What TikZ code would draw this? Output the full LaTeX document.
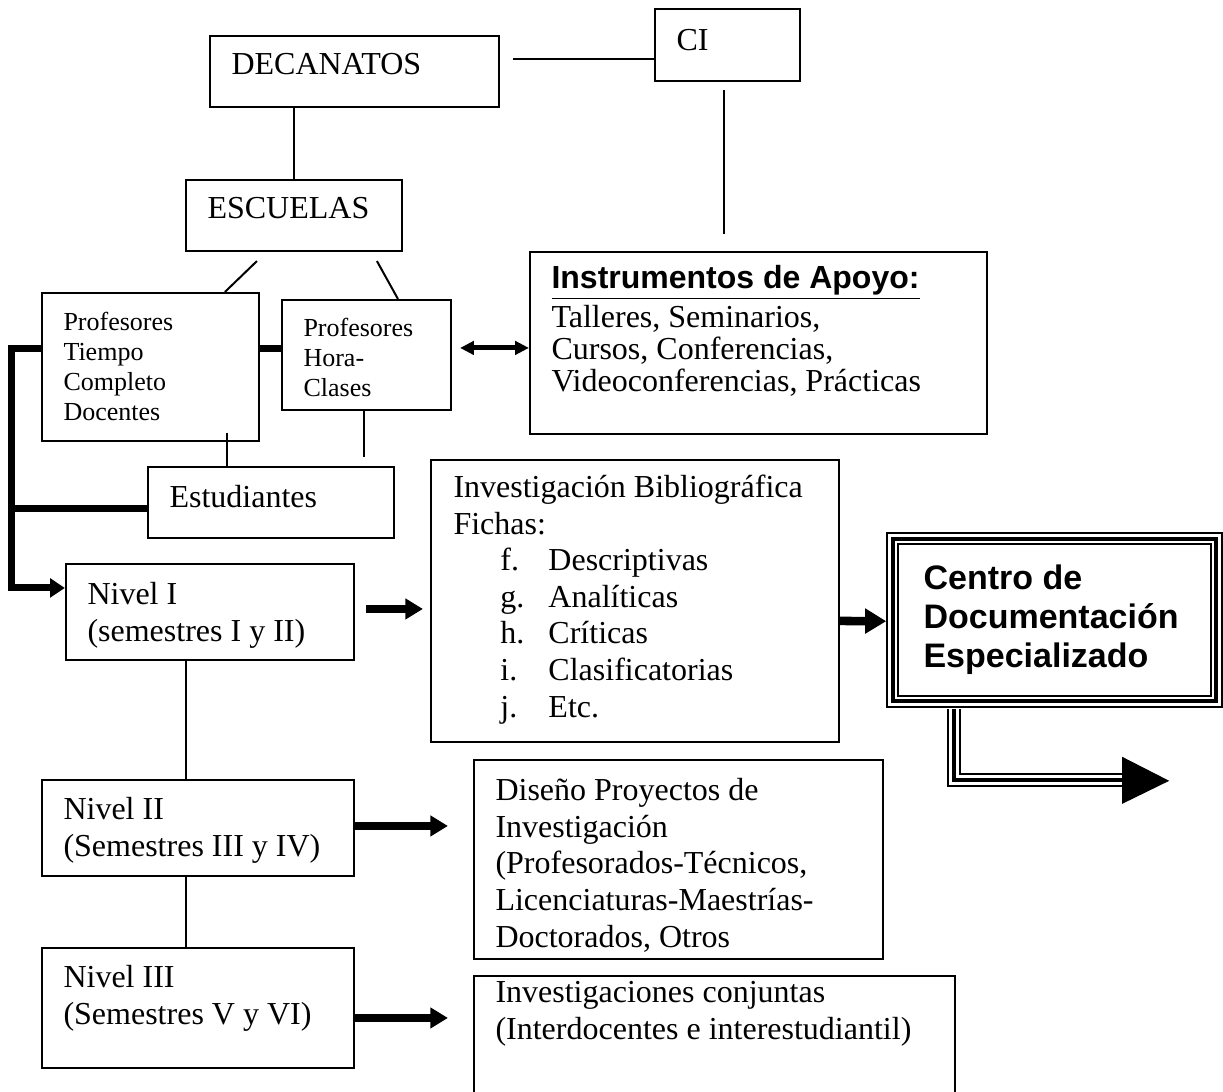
\documentclass[tikz,border=0pt]{standalone}
\usepackage{fontspec}
\setmainfont{Liberation Serif}
\newfontfamily\arialfont{Liberation Sans}
\usetikzlibrary{arrows.meta, fit, calc}
\newcommand{\fichaitem}[1]{\hspace*{17.6pt}\makebox[18pt][l]{#1}}

\begin{document}
\begin{tikzpicture}[
  x=0.375pt, y=-0.375pt,
  box/.style={rectangle, draw, line width=0.8pt, inner sep=0pt},
  boxtext/.style={anchor=base west, inner sep=0pt, align=left, font=\fontsize{12}{13.7}\selectfont},
  smalltext/.style={anchor=base west, inner sep=0pt, align=left, font=\fontsize{9.75}{11.25}\selectfont},
  conn/.style={line width=0.75pt},
  boldconn/.style={line width=2.6pt},
  arrow/.style={line width=2.8pt, -{Triangle[length=6.6pt, width=7.5pt]}}
]
  \useasboundingbox (0,0) rectangle (1223,1091);

  % Boxes
  \node[box, fit={(210,36) (499,107)}] (dec) {};
  \node[box, fit={(655,9) (800,81)}] (ci) {};
  \node[box, fit={(186,180) (402,251)}] (esc) {};
  \node[box, fit={(42,293) (259,441)}] (tiempo) {};
  \node[box, fit={(282,300) (451,410)}] (hora) {};
  \node[box, fit={(530,252) (987,434)}] (instr) {};
  \node[box, fit={(148,467) (394,538)}] (estud) {};
  \node[box, fit={(431,460) (839,742)}] (biblio) {};
  \node[box, fit={(66,564) (354,660)}] (nivel1) {};
  \node[box, fit={(42,780) (354,876)}] (nivel2) {};
  \node[box, fit={(42,948) (354,1068)}] (nivel3) {};
  \node[box, fit={(474,760) (883,959)}] (diseno) {};
  \node[box, fit={(474,976) (955,1110)}] (conj) {};
  \node[box, line width=0.6pt, fit={(887,533) (1222,707)}] (centro) {};
  \draw[line width=1.5pt] ($(centro.north west)+(7,7)$) rectangle ($(centro.south east)+(-7,-7)$);
  \draw[line width=0.6pt] ($(centro.north west)+(12,12)$) rectangle ($(centro.south east)+(-12,-12)$);

  % Texts (multi-line texts sit on the baseline of their last line)
  \node[boxtext] (dectxt) at (231,74) {DECANATOS};
  \node[boxtext] (citxt) at (676,50) {CI};
  \node[boxtext] (esctxt) at (207,218) {ESCUELAS};
  \node[smalltext] (tiempotxt) at (63,420) {Profesores\\Tiempo\\Completo\\Docentes};
  \node[smalltext] (horatxt) at (303,396) {Profesores\\Hora-\\Clases};
  \node[boxtext, font=\fontsize{12}{12}\selectfont] (instrtxt) at (551,391)
    {{\arialfont\bfseries\underline{Instrumentos de Apoyo:}}\\[0.75pt]Talleres, Seminarios,\\Cursos, Conferencias,\\Videoconferencias, Prácticas};
  \node[boxtext] (estudtxt) at (169,507) {Estudiantes};
  \node[boxtext] (bibliotxt) at (453,717) {Investigación Bibliográfica\\Fichas:\\\fichaitem{f.}Descriptivas\\\fichaitem{g.}Analíticas\\\fichaitem{h.}Críticas\\\fichaitem{i.}Clasificatorias\\\fichaitem{j.}Etc.};
  \node[boxtext] (nivel1txt) at (87,641) {Nivel I\\(semestres I y II)};
  \node[boxtext] (nivel2txt) at (63,856) {Nivel II\\(Semestres III y IV)};
  \node[boxtext] (nivel3txt) at (63,1024) {Nivel III\\(Semestres V y VI)};
  \node[boxtext] (disenotxt) at (495,947) {Diseño Proyectos de\\Investigación\\(Profesorados-Técnicos,\\Licenciaturas-Maestrías-\\Doctorados, Otros};
  \node[boxtext] (conjtxt) at (495,1039) {Investigaciones conjuntas\\(Interdocentes e interestudiantil)};
  \node[boxtext, font=\arialfont\bfseries\fontsize{12.75}{14.6}\selectfont] (centrotxt) at (923,667) {Centro de\\Documentación\\Especializado};

  % Thin links
  \draw[conn] ($(dec.north east)+(13,24)$) -- ($(ci.north west)+(0,51)$);
  \draw[conn] (esc.north |- dec.south) -- (esc.north);
  \draw[conn] ($(ci.south)+(-4,8)$) -- ($(ci.south)+(-4,152)$);
  \draw[conn] ($(esc.south west)+(72,9)$) -- ($(tiempo.north west)+(184,0)$);
  \draw[conn] ($(esc.south west)+(192,9)$) -- ($(hora.north west)+(117,0)$);
  \draw[conn] ($(estud.north west)+(80,-33)$) -- ($(estud.north west)+(80,0)$);
  \draw[conn] ($(hora.south west)+(83,0)$) -- ($(estud.north west)+(217,-9)$);
  \draw[conn] ($(nivel1.south west)+(121,0)$) -- ($(nivel2.north west)+(145,0)$);
  \draw[conn] ($(nivel2.south west)+(145,0)$) -- ($(nivel3.north west)+(145,0)$);

  % Bold links and arrows
  \draw[boldconn] ($(tiempo.north east)+(0,57)$) -- ($(hora.north west)+(0,50)$);
  \draw[arrow, line width=2.6pt, -{Triangle[length=5.6pt, width=7pt]}] ($(tiempo.north west)+(0,57)$) -| ($(nivel1.north west)+(-53,25)$) -- ($(nivel1.north west)+(0,25)$);
  \draw[boldconn] ($(estud.north west)+(0,43)$) -- ($(estud.north west)+(-135,43)$);
  \draw[line width=1.9pt, {Triangle[length=5.2pt, width=5pt]}-{Triangle[length=5.2pt, width=5pt]}] ($(hora.north east)+(8,49)$) -- ($(instr.north west)+(0,97)$);
  \draw[arrow] ($(nivel1.north east)+(11,46)$) -- ($(biblio.north west)+(-7,150)$);
  \draw[arrow] ($(nivel2.north east)+(0,47)$) -- ($(diseno.north west)+(-25,67)$);
  \draw[arrow] ($(nivel3.north east)+(0,71)$) -- ($(conj.north west)+(-25,43)$);
  \draw[arrow, line width=3.2pt, -{Triangle[length=7.9pt, width=9pt]}] ($(biblio.north east)+(0,162)$) -- ($(centro.north west)+(0,89)$);

  % Striped arrow out of the centre
  \coordinate (bend) at ($(centro.south west)+(68,72)$);
  \coordinate (headbase) at ($(bend)+(168,0)$);
  \foreach \w/\c in {5.25pt/black, 3.75pt/white, 1.6pt/black}
    \draw[line width=\w, \c] ($(centro.south west)+(68,1)$) |- (headbase);
  \fill ($(headbase)+(0,-23)$) -- ($(headbase)+(47,1)$) -- ($(headbase)+(0,24)$) -- cycle;
\end{tikzpicture}
\end{document}
